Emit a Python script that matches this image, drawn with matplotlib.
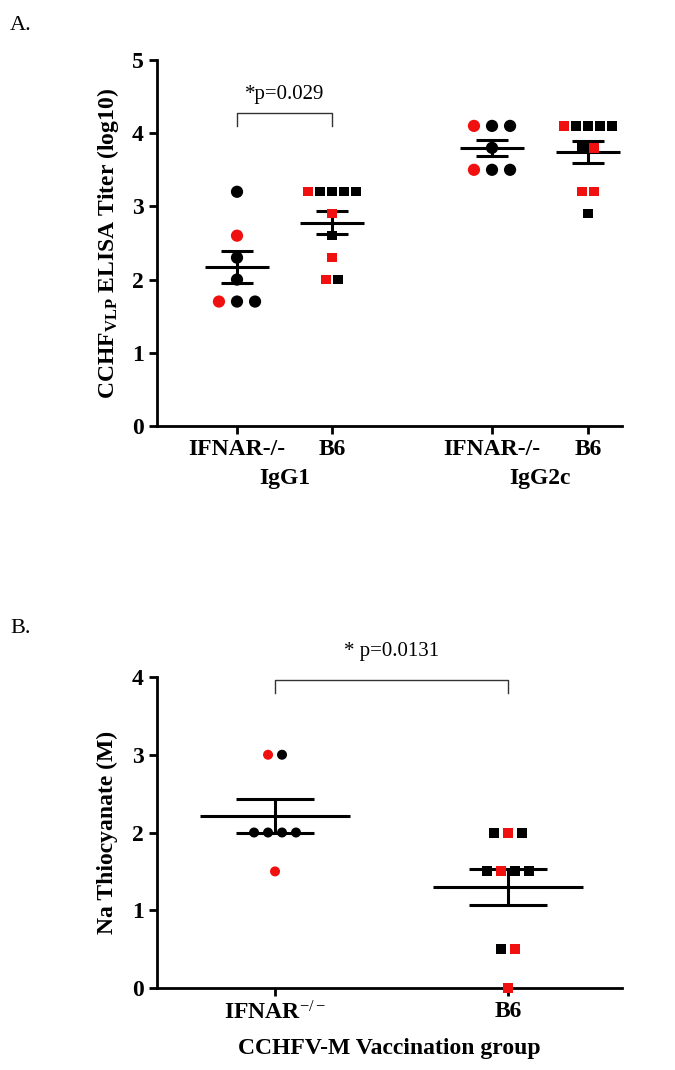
import numpy as np
import matplotlib
matplotlib.use('Agg')
import matplotlib.pyplot as plt

plt.rcParams['font.family'] = 'Liberation Serif'
plt.rcParams['mathtext.fontset'] = 'custom'
plt.rcParams['mathtext.rm'] = 'Liberation Serif'
plt.rcParams['mathtext.bf'] = 'Liberation Serif:bold'
plt.rcParams['mathtext.it'] = 'Liberation Serif:italic'

# ---- panel A: ELISA titers (log10) ----
a_ticklabels = ['IFNAR-/-', 'B6', 'IFNAR-/-', 'B6']
a_isotypes = ['IgG1', 'IgG2c']

a_ifnar_g1 = [3.2, 2.6, 2.3, 2.0, 1.7, 1.7, 1.7]
a_ifnar_g1_col = ['k', 'r', 'k', 'k', 'r', 'k', 'k']
a_b6_g1 = [3.2, 3.2, 3.2, 3.2, 3.2, 2.9, 2.6, 2.3, 2.0, 2.0]
a_b6_g1_col = ['r', 'k', 'k', 'k', 'k', 'r', 'k', 'r', 'r', 'k']
a_ifnar_g2 = [4.1, 4.1, 4.1, 3.8, 3.5, 3.5, 3.5]
a_ifnar_g2_col = ['r', 'k', 'k', 'k', 'r', 'k', 'k']
a_b6_g2 = [4.1, 4.1, 4.1, 4.1, 4.1, 3.8, 3.8, 3.2, 3.2, 2.9]
a_b6_g2_col = ['r', 'k', 'k', 'k', 'k', 'k', 'r', 'r', 'r', 'k']
a_pval = '*p=0.029'

# ---- panel B: NaSCN avidity ----
b_ticklabels = [r'IFNAR$^{-/-}$', 'B6']
b_ifnar = [3.0, 3.0, 2.0, 2.0, 2.0, 2.0, 1.5]
b_ifnar_col = ['r', 'k', 'k', 'k', 'k', 'k', 'r']
b_b6 = [2.0, 2.0, 2.0, 1.5, 1.5, 1.5, 1.5, 0.5, 0.5, 0.0]
b_b6_col = ['k', 'r', 'k', 'k', 'r', 'k', 'k', 'k', 'r', 'r']
b_pval = '* p=0.0131'

RED = '#f01010'


def spread(vals, step):
    vals = np.asarray(vals)
    off = np.zeros(len(vals))
    for v in np.unique(vals):
        idx = np.where(vals == v)[0]
        off[idx] = (np.arange(len(idx)) - (len(idx) - 1) / 2) * step
    return off


def group(ax, x, vals, cols, marker, ms, step, hw, cw):
    vals = np.asarray(vals, dtype=float)
    m = vals.mean()
    s = vals.std(ddof=1) / np.sqrt(len(vals))
    ax.hlines(m, x - hw, x + hw, color='k', lw=2.2, zorder=2)
    ax.hlines([m - s, m + s], x - cw, x + cw, color='k', lw=2.2, zorder=2)
    ax.vlines(x, m - s, m + s, color='k', lw=2.2, zorder=2)
    cc = [RED if c == 'r' else 'k' for c in cols]
    ax.scatter(x + spread(vals, step), vals, s=ms ** 2, c=cc, marker=marker,
               linewidths=0, zorder=3, clip_on=False)


def style(ax):
    for sp in ['top', 'right']:
        ax.spines[sp].set_visible(False)
    for sp in ['left', 'bottom']:
        ax.spines[sp].set_linewidth(2)
    ax.tick_params(direction='out', length=6, width=2, labelsize=17)
    for lab in ax.get_yticklabels() + ax.get_xticklabels():
        lab.set_fontweight('bold')


fig = plt.figure(figsize=(6.75, 10.7), dpi=100)

# panel A
axA = fig.add_axes([0.2326, 0.6019, 0.689, 0.342])
xa = [0.842, 1.842, 3.526, 4.537]
group(axA, xa[0], a_ifnar_g1, a_ifnar_g1_col, 'o', 8.8, 0.19, 0.337, 0.168)
group(axA, xa[1], a_b6_g1, a_b6_g1_col, 's', 6.8, 0.127, 0.337, 0.168)
group(axA, xa[2], a_ifnar_g2, a_ifnar_g2_col, 'o', 8.8, 0.19, 0.337, 0.168)
group(axA, xa[3], a_b6_g2, a_b6_g2_col, 's', 6.8, 0.127, 0.337, 0.168)
axA.set_xlim(0, 4.895)
axA.set_ylim(0, 5)
axA.set_yticks([0, 1, 2, 3, 4, 5])
axA.set_xticks(xa)
axA.set_xticklabels(a_ticklabels)
style(axA)
axA.set_ylabel(r'CCHF$_{\mathbf{VLP}}$ ELISA Titer (log10)', fontsize=17,
               fontweight='bold', labelpad=8)
for i, iso in enumerate(a_isotypes):
    axA.text((xa[2 * i] + xa[2 * i + 1]) / 2, -0.72, iso, fontsize=17,
             fontweight='bold', ha='center', va='center')
axA.plot([xa[0], xa[0], xa[1], xa[1]], [4.1, 4.28, 4.28, 4.1], color='#333333',
         lw=1, clip_on=False)
axA.text((xa[0] + xa[1]) / 2, 4.4, a_pval, fontsize=15, ha='center', va='bottom')

# panel B
axB = fig.add_axes([0.2326, 0.0766, 0.689, 0.2907])
xb = [1, 2]
group(axB, xb[0], b_ifnar, b_ifnar_col, 'o', 7.2, 0.06, 0.322, 0.167)
group(axB, xb[1], b_b6, b_b6_col, 's', 7.2, 0.06, 0.322, 0.167)
axB.set_xlim(1 - 118 / 233, 2 + 114 / 233)
axB.set_ylim(0, 4)
axB.set_yticks([0, 1, 2, 3, 4])
axB.set_xticks(xb)
axB.set_xticklabels(b_ticklabels)
style(axB)
axB.set_ylabel('Na Thiocyanate (M)', fontsize=17, fontweight='bold', labelpad=10)
axB.set_xlabel('CCHFV-M Vaccination group', fontsize=17, fontweight='bold',
               labelpad=10)
axB.plot([xb[0], xb[0], xb[1], xb[1]], [3.8, 3.96, 3.96, 3.8], color='#333333',
         lw=1, clip_on=False)
axB.text(1.5, 4.2, b_pval, fontsize=15, ha='center', va='bottom')

fig.text(0.015, 0.985, 'A.', fontsize=16, ha='left', va='top')
fig.text(0.015, 0.413, 'B.', fontsize=16, ha='left', va='center')

fig.savefig('out.png', dpi=100)
